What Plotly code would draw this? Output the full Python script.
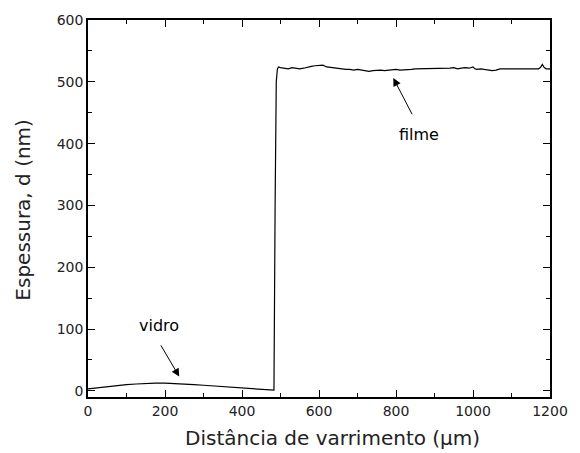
import plotly.graph_objects as go

# substrate (vidro) region
x_vidro = [0, 25, 50, 75, 100, 125, 150, 175, 200, 225, 250, 275, 300, 325, 350, 375, 400, 425, 450, 470, 483]
y_vidro = [3, 5, 7, 9, 10, 11, 12, 12.5, 12.5, 12, 11, 10, 9, 8, 7, 6, 5, 4, 3, 2, 1]

# step and film (filme) region
x_filme = [486, 489, 492, 495, 500, 510, 520, 530, 540, 550, 560, 570, 580, 590, 600, 610, 620, 630,
           640, 650, 660, 670, 680, 690, 700, 710, 720, 730, 740, 750, 760, 770, 780, 790, 800,
           810, 820, 830, 840, 850, 860, 870, 880, 890, 900, 910, 920, 930, 940, 950, 960, 970,
           980, 990, 1000, 1005, 1010, 1020, 1030, 1040, 1050, 1060, 1070, 1080, 1090, 1100,
           1110, 1120, 1130, 1140, 1150, 1160, 1170, 1175, 1180, 1185, 1190, 1200]
y_filme = [300, 500, 521, 524, 523, 522, 521, 523, 522, 521, 522, 524, 525, 526, 526, 527, 524, 523,
           522, 521, 521, 520, 520, 519, 520, 519, 518, 517, 518, 519, 519, 518, 519, 519, 520,
           519, 519, 520, 520, 521, 521, 522, 521, 521, 522, 521, 521, 522, 522, 523, 521, 522,
           523, 522, 524, 521, 520, 521, 520, 519, 518, 519, 521, 521, 521, 522,
           521, 521, 522, 521, 522, 521, 521, 523, 528, 523, 521, 521]

x_all = x_vidro + x_filme
y_all = y_vidro + y_filme

x_title = "Distância de varrimento (μm)"
y_title = "Espessura, d (nm)"

font_family = "DejaVu Sans, Verdana, sans-serif"

fig = go.Figure()
fig.add_trace(go.Scatter(x=x_all, y=y_all, mode="lines",
                         line=dict(color="black", width=1.2), showlegend=False))

fig.add_annotation(x=237, y=23, ax=187, ay=76, xref="x", yref="y", axref="x", ayref="y",
                   showarrow=True, arrowhead=2, arrowsize=1.6, arrowwidth=1, arrowcolor="black", text="")
fig.add_annotation(x=185, y=105, xref="x", yref="y", text="vidro", showarrow=False,
                   font=dict(size=16, color="black", family=font_family))
fig.add_annotation(x=793, y=506, ax=844, ay=445, xref="x", yref="y", axref="x", ayref="y",
                   showarrow=True, arrowhead=2, arrowsize=1.6, arrowwidth=1, arrowcolor="black", text="")
fig.add_annotation(x=859, y=414, xref="x", yref="y", text="filme", showarrow=False,
                   font=dict(size=16, color="black", family=font_family))

# axis titles
fig.add_annotation(x=0.5295, y=-0.108, xref="paper", yref="paper", text=x_title, showarrow=False,
                   xanchor="center", yanchor="middle", borderpad=0,
                   font=dict(size=20, color="#222", family=font_family))
fig.add_annotation(x=-0.1414, y=0.496, xref="paper", yref="paper", text=y_title, showarrow=False,
                   xanchor="center", yanchor="middle", textangle=-90,
                   font=dict(size=20, color="#222", family=font_family))

axis_common = dict(showline=True, linecolor="black", linewidth=1.5, mirror="ticks",
                   ticks="inside", ticklen=7, tickwidth=1.2, tickcolor="black",
                   showgrid=False, zeroline=False, ticklabeloverflow="allow",
                   tickfont=dict(size=14, color="#222", family=font_family))

fig.update_xaxes(range=[0, 1200], dtick=200, tick0=0,
                 minor=dict(ticks="inside", dtick=100, ticklen=4, tickcolor="black", tickwidth=1),
                 **axis_common)
fig.update_yaxes(range=[-10, 600], dtick=100, tick0=0,
                 minor=dict(ticks="inside", dtick=50, ticklen=4, tickcolor="black", tickwidth=1),
                 **axis_common)

fig.update_layout(width=580, height=453, margin=dict(l=88, r=18, t=20, b=56),
                  plot_bgcolor="white", paper_bgcolor="white")

fig.write_html("out.html")
